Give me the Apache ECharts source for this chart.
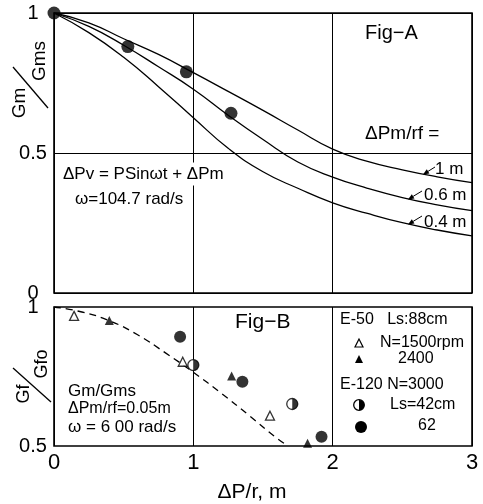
<!DOCTYPE html>
<html><head><meta charset="utf-8">
<script src="https://cdn.jsdelivr.net/npm/echarts@6/dist/echarts.min.js"></script>
<style>html,body{margin:0;padding:0;background:#fff}#c{width:483px;height:504px}</style>
</head><body><div id="c"></div>
<script>
// ---- Fig-A data ----
const xA = [0, 0.25, 0.5, 0.75, 1.0, 1.25, 1.5, 1.75, 2.0, 2.25, 2.5, 2.75, 3.0];
const curve1m  = [1, 0.965, 0.908, 0.852, 0.787, 0.720, 0.652, 0.582, 0.514, 0.470, 0.440, 0.415, 0.394];
const curve06m = [1, 0.952, 0.885, 0.808, 0.728, 0.635, 0.548, 0.468, 0.414, 0.374, 0.341, 0.315, 0.294];
const curve04m = [1, 0.930, 0.842, 0.737, 0.626, 0.517, 0.433, 0.374, 0.322, 0.284, 0.251, 0.225, 0.204];
const dotsAx = [0, 0.53, 0.95, 1.27];
const dotsAy = [1, 0.88, 0.79, 0.642];

// ---- Fig-B data ----
const dashX = [0, 0.2, 0.4, 0.6, 0.8, 1.0, 1.2, 1.4, 1.6, 1.68];
const dashY = [1, 0.982, 0.95, 0.9, 0.835, 0.765, 0.69, 0.61, 0.528, 0.5];
const openTriX = [0.144, 0.924, 1.55];
const openTriY = [0.968, 0.803, 0.609];
const fillTriX = [0.397, 1.275, 1.82];
const fillTriY = [0.951, 0.752, 0.51];
const halfX = [1.0, 1.71];
const halfY = [0.791, 0.651];
const dotBX = [0.905, 1.352, 1.92];
const dotBY = [0.893, 0.731, 0.533];

const xTicks = [0, 1, 2, 3];

const zip = (a, b) => a.map((v, i) => [v, b[i]]);
const FONT = 'Liberation Sans, Arial, sans-serif';

function txt(x, y, s, size, extra) {
  return {
    type: 'text', x: x, y: y, z: 50,
    style: Object.assign({ text: s, fontSize: size, fontFamily: FONT, fill: '#000', align: 'left', verticalAlign: 'middle' }, extra || {})
  };
}
function rtxt(x, y, s, size) {
  return { type: 'text', x: x, y: y, rotation: Math.PI / 2, z: 50,
    style: { text: s, fontSize: size, fontFamily: FONT, fill: '#000', align: 'center', verticalAlign: 'middle' } };
}
function arrow(x1, y1, x2, y2) {
  const ang = Math.atan2(y2 - y1, x2 - x1), L = 6, W = 2.5;
  const bx = x2 - L * Math.cos(ang), by = y2 - L * Math.sin(ang);
  const px = -Math.sin(ang) * W, py = Math.cos(ang) * W;
  return [
    { type: 'line', z: 50, shape: { x1: x1, y1: y1, x2: bx, y2: by }, style: { stroke: '#000', lineWidth: 1 } },
    { type: 'polygon', z: 50, shape: { points: [[x2, y2], [bx + px, by + py], [bx - px, by - py]] }, style: { fill: '#000' } }
  ];
}

const lineStyle = { color: '#000', width: 1.3 };
const curveBase = { type: 'line', xAxisIndex: 0, yAxisIndex: 0, smooth: 0.5, symbol: 'none', lineStyle: lineStyle };
const chart = echarts.init(document.getElementById('c'));
chart.setOption({
  animation: false,
  backgroundColor: '#fff',
  grid: [
    { left: 54, top: 13, width: 418, height: 280, show: true, borderColor: '#000', borderWidth: 1.6, backgroundColor: 'transparent' },
    { left: 54, top: 307, width: 418, height: 139, show: true, borderColor: '#000', borderWidth: 1.6, backgroundColor: 'transparent' }
  ],
  xAxis: [
    { gridIndex: 0, type: 'value', min: xTicks[0], max: xTicks[3], interval: 1,
      axisLine: { show: false }, axisTick: { show: false }, axisLabel: { show: false },
      splitLine: { show: true, lineStyle: { color: '#000', width: 1 } } },
    { gridIndex: 1, type: 'value', min: xTicks[0], max: xTicks[3], interval: 1,
      axisLine: { show: false }, axisTick: { show: false },
      axisLabel: { show: true, fontSize: 22, fontFamily: FONT, color: '#000', margin: 6 },
      splitLine: { show: true, lineStyle: { color: '#000', width: 1 } } }
  ],
  yAxis: [
    { gridIndex: 0, type: 'value', min: 0, max: 1, interval: 0.5,
      axisLine: { show: false }, axisTick: { show: false },
      axisLabel: { fontSize: 20, fontFamily: FONT, color: '#000', align: 'center', margin: 21 },
      splitLine: { show: true, lineStyle: { color: '#000', width: 1 } } },
    { gridIndex: 1, type: 'value', min: 0.5, max: 1, interval: 0.5,
      axisLine: { show: false }, axisTick: { show: false },
      axisLabel: { fontSize: 20, fontFamily: FONT, color: '#000', align: 'center', margin: 21 },
      splitLine: { show: false } }
  ],
  series: [
    Object.assign({}, curveBase, { data: zip(xA, curve1m) }),
    Object.assign({}, curveBase, { data: zip(xA, curve06m) }),
    Object.assign({}, curveBase, { data: zip(xA, curve04m) }),
    { type: 'scatter', xAxisIndex: 0, yAxisIndex: 0, symbol: 'circle', symbolSize: 13, itemStyle: { color: '#000' }, z: 5, data: zip(dotsAx, dotsAy) },

    { type: 'line', xAxisIndex: 1, yAxisIndex: 1, smooth: 0.5, symbol: 'none', lineStyle: { color: '#000', width: 1.3, type: [7, 5] }, data: zip(dashX, dashY) },
    { type: 'scatter', xAxisIndex: 1, yAxisIndex: 1, symbol: 'triangle', symbolSize: 9, itemStyle: { color: '#fff', borderColor: '#000', borderWidth: 1.3 }, z: 5, data: zip(openTriX, openTriY) },
    { type: 'scatter', xAxisIndex: 1, yAxisIndex: 1, symbol: 'triangle', symbolSize: 9, itemStyle: { color: '#000' }, z: 5, data: zip(fillTriX, fillTriY) },
    { type: 'scatter', xAxisIndex: 1, yAxisIndex: 1, symbol: 'circle', symbolSize: 11, itemStyle: { color: '#fff', borderColor: '#000', borderWidth: 1.3 }, z: 5, data: zip(halfX, halfY) },
    { type: 'scatter', xAxisIndex: 1, yAxisIndex: 1, symbol: 'path://M0,0 A10,10 0 0,1 0,20 Z', symbolKeepAspect: false, symbolSize: [5.5, 11], symbolOffset: [2.75, 0], itemStyle: { color: '#000' }, z: 6, data: zip(halfX, halfY) },
    { type: 'scatter', xAxisIndex: 1, yAxisIndex: 1, symbol: 'circle', symbolSize: 12, itemStyle: { color: '#000' }, z: 5, data: zip(dotBX, dotBY) }
  ],
  graphic: [
    // y-axis names
    rtxt(19.5, 103, 'Gm', 19),
    rtxt(40, 61, 'Gms', 19),
    { type: 'line', z: 50, shape: { x1: 13, y1: 67, x2: 48, y2: 108 }, style: { stroke: '#000', lineWidth: 1.3 } },
    rtxt(24, 394, 'Gf', 18),
    rtxt(42, 364, 'Gfo', 18),
    { type: 'line', z: 50, shape: { x1: 13, y1: 368, x2: 51, y2: 402 }, style: { stroke: '#000', lineWidth: 1.3 } },
    // x-axis name
    txt(252, 492, 'ΔP/r, m', 21, { align: 'center' }),
    // Fig-A annotations
    txt(365, 33, 'Fig−A', 20),
    txt(365, 134, 'ΔPm/rf =', 19),
    txt(435, 169, '1 m', 17),
    txt(424, 195, '0.6 m', 17),
    txt(424, 222, '0.4 m', 17),
    ...arrow(435, 167, 423, 174.5),
    ...arrow(422, 191, 408, 199.5),
    ...arrow(422, 216, 408, 224.5),
    txt(63, 174, 'ΔPv = PSinωt + ΔPm', 17, { backgroundColor: '#fff', padding: [3, 0, 3, 0] }),
    txt(75, 199, 'ω=104.7 rad/s', 17),
    // Fig-B annotations
    txt(235, 322, 'Fig−B', 21),
    txt(68, 391, 'Gm/Gms', 17),
    txt(68, 409, 'ΔPm/rf=0.05m', 16),
    txt(68, 427, 'ω = 6 00 rad/s', 17),
    // legend box
    txt(340, 320, 'E-50   Ls:88cm', 16),
    { type: 'polygon', z: 50, shape: { points: [[359, 339], [355, 347], [363, 347]] }, style: { fill: '#fff', stroke: '#000', lineWidth: 1.2 } },
    txt(380, 343, 'N=1500rpm', 16),
    { type: 'polygon', z: 50, shape: { points: [[359, 355], [355, 363], [363, 363]] }, style: { fill: '#000' } },
    txt(398, 359, '2400', 16),
    txt(340, 385, 'E-120 N=3000', 16),
    { type: 'circle', z: 50, shape: { cx: 359, cy: 405, r: 5.3 }, style: { fill: '#fff', stroke: '#000', lineWidth: 1.3 } },
    { type: 'sector', z: 51, shape: { cx: 359, cy: 405, r0: 0, r: 5.3, startAngle: -Math.PI / 2, endAngle: Math.PI / 2, clockwise: true }, style: { fill: '#000' } },
    txt(390, 405, 'Ls=42cm', 16),
    { type: 'circle', z: 50, shape: { cx: 361, cy: 427, r: 6 }, style: { fill: '#000' } },
    txt(418, 426, '62', 16)
  ]
});
</script>
</body></html>
